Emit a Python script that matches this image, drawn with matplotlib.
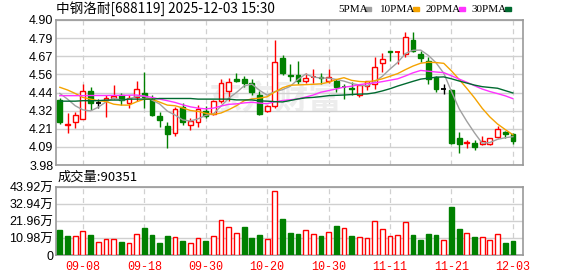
import numpy as np
import matplotlib
matplotlib.use("Agg")
import matplotlib.pyplot as plt

plt.rcParams['font.family'] = ['Liberation Sans', 'Noto Sans CJK SC', 'DejaVu Sans']

title = "中钢洛耐[688119] 2025-12-03 15:30"

opens = [4.392, 4.235, 4.254, 4.273, 4.4515, 4.371, 4.392, 4.405, 4.422, 4.373,
         4.409, 4.439, 4.398, 4.294, 4.230, 4.186, 4.349, 4.235, 4.254, 4.324,
         4.303, 4.388, 4.447, 4.528, 4.524, 4.498, 4.426, 4.324, 4.356, 4.660,
         4.553, 4.549, 4.515, 4.535, 4.537, 4.515, 4.515, 4.479, 4.466, 4.426,
         4.483, 4.494, 4.626, 4.702, 4.696, 4.685, 4.775, 4.685, 4.638, 4.541,
         4.462, 4.456, 4.154, 4.122, 4.122, 4.111, 4.111, 4.160, 4.192, 4.175]
closes = [4.250, 4.240, 4.299, 4.4515, 4.373, 4.371, 4.403, 4.420, 4.392, 4.403,
          4.460, 4.409, 4.296, 4.265, 4.179, 4.335, 4.256, 4.260, 4.335, 4.288,
          4.388, 4.498, 4.509, 4.515, 4.500, 4.441, 4.303, 4.354, 4.632, 4.562,
          4.545, 4.515, 4.530, 4.537, 4.532, 4.541, 4.473, 4.477, 4.462, 4.488,
          4.511, 4.600, 4.653, 4.694, 4.698, 4.791, 4.702, 4.660, 4.526, 4.462,
          4.462, 4.122, 4.112, 4.128, 4.094, 4.133, 4.150, 4.211, 4.175, 4.133]
highs = [4.403, 4.313, 4.318, 4.494, 4.473, 4.398, 4.426, 4.490, 4.439, 4.426,
         4.511, 4.568, 4.424, 4.318, 4.256, 4.345, 4.371, 4.277, 4.362, 4.354,
         4.392, 4.524, 4.530, 4.562, 4.547, 4.524, 4.447, 4.362, 4.774, 4.675,
         4.620, 4.638, 4.562, 4.590, 4.562, 4.590, 4.526, 4.494, 4.505, 4.494,
         4.515, 4.664, 4.689, 4.702, 4.706, 4.823, 4.823, 4.706, 4.664, 4.547,
         4.494, 4.462, 4.192, 4.139, 4.137, 4.162, 4.154, 4.228, 4.196, 4.186]
lows = [4.243, 4.180, 4.213, 4.270, 4.328, 4.341, 4.286, 4.398, 4.362, 4.341,
        4.388, 4.341, 4.292, 4.224, 4.090, 4.165, 4.235, 4.201, 4.222, 4.281,
        4.298, 4.371, 4.388, 4.505, 4.473, 4.426, 4.296, 4.315, 4.341, 4.553,
        4.515, 4.494, 4.498, 4.498, 4.494, 4.498, 4.441, 4.398, 4.426, 4.409,
        4.456, 4.462, 4.568, 4.638, 4.621, 4.668, 4.696, 4.632, 4.494, 4.441,
        4.430, 4.116, 4.058, 4.090, 4.073, 4.107, 4.107, 4.154, 4.154, 4.112]

ma5 = [4.434, 4.398, 4.356, 4.330, 4.323, 4.347, 4.380, 4.404, 4.392, 4.398,
       4.416, 4.417, 4.392, 4.367, 4.322, 4.297, 4.266, 4.259, 4.273, 4.295,
       4.305, 4.354, 4.404, 4.440, 4.482, 4.493, 4.454, 4.423, 4.446, 4.458,
       4.479, 4.522, 4.557, 4.538, 4.532, 4.531, 4.523, 4.512, 4.497, 4.488,
       4.482, 4.508, 4.543, 4.589, 4.631, 4.687, 4.708, 4.709, 4.675, 4.628,
       4.562, 4.446, 4.337, 4.257, 4.184, 4.118, 4.123, 4.143, 4.153, 4.160]
ma10 = [4.473, 4.456, 4.434, 4.409, 4.398, 4.388, 4.383, 4.366, 4.360, 4.360,
        4.381, 4.398, 4.398, 4.379, 4.360, 4.356, 4.342, 4.326, 4.320, 4.308,
        4.301, 4.310, 4.331, 4.356, 4.388, 4.399, 4.404, 4.413, 4.443, 4.470,
        4.486, 4.488, 4.490, 4.492, 4.495, 4.505, 4.522, 4.534, 4.517, 4.510,
        4.507, 4.515, 4.527, 4.543, 4.560, 4.585, 4.608, 4.626, 4.632, 4.630,
        4.625, 4.577, 4.523, 4.466, 4.406, 4.340, 4.285, 4.240, 4.205, 4.172]
ma20 = [4.420, 4.420, 4.420, 4.420, 4.421, 4.421, 4.421, 4.422, 4.422, 4.423,
        4.424, 4.417, 4.409, 4.398, 4.388, 4.377, 4.362, 4.349, 4.341, 4.336,
        4.341, 4.354, 4.365, 4.368, 4.374, 4.378, 4.373, 4.369, 4.381, 4.389,
        4.394, 4.399, 4.411, 4.424, 4.442, 4.452, 4.463, 4.474, 4.480, 4.490,
        4.496, 4.501, 4.509, 4.518, 4.527, 4.545, 4.565, 4.580, 4.575, 4.570,
        4.566, 4.546, 4.525, 4.505, 4.483, 4.462, 4.446, 4.433, 4.419, 4.401]
ma30 = [4.385, 4.385, 4.385, 4.388, 4.388, 4.388, 4.392, 4.392, 4.392, 4.398,
        4.398, 4.398, 4.398, 4.402, 4.402, 4.402, 4.402, 4.402, 4.398, 4.398,
        4.398, 4.398, 4.398, 4.393, 4.393, 4.393, 4.387, 4.385, 4.382, 4.380,
        4.389, 4.399, 4.406, 4.409, 4.414, 4.420, 4.422, 4.424, 4.427, 4.430,
        4.431, 4.438, 4.450, 4.464, 4.481, 4.496, 4.511, 4.525, 4.531, 4.537,
        4.539, 4.527, 4.513, 4.500, 4.487, 4.477, 4.472, 4.467, 4.452, 4.437]

volumes = [161000, 123000, 121000, 155000, 129000, 82000, 101000, 101000, 84000, 78000,
           136000, 174000, 129000, 78000, 123000, 114000, 90000, 78000, 108000, 90000,
           121000, 224000, 179000, 140000, 181000, 110000, 129000, 101000, 413000, 233000,
           142000, 136000, 159000, 133000, 121000, 149000, 187000, 174000, 121000, 114000,
           108000, 217000, 166000, 121000, 127000, 211000, 127000, 97000, 136000, 127000,
           95000, 310000, 168000, 140000, 116000, 114000, 95000, 133000, 78000, 90351]
vol_dir = ["g", "g", "r", "r", "g", "r", "r", "r", "g", "r",
           "r", "g", "g", "g", "g", "r", "g", "r", "r", "g",
           "r", "r", "r", "r", "g", "g", "g", "r", "r", "g",
           "g", "g", "r", "r", "g", "r", "g", "r", "g", "r",
           "r", "r", "r", "r", "r", "r", "g", "g", "g", "g",
           "r", "g", "g", "r", "g", "r", "r", "r", "g", "g"]

date_idx = [3, 11, 19, 27, 35, 43, 51, 59]
date_labels = ["09-08", "09-18", "09-30", "10-20", "10-30", "11-11", "11-21", "12-03"]

price_ticks = [3.98, 4.095, 4.21, 4.325, 4.44, 4.555, 4.67, 4.785, 4.90]
price_labels = ["3.98", "4.09", "4.21", "4.32", "4.44", "4.56", "4.67", "4.79", "4.90"]
vol_ticks = [0, 109800, 219600, 329400, 439200]
vol_labels = ["0", "10.98万", "21.96万", "32.94万", "43.92万"]

legend_names = ["5PMA", "10PMA", "20PMA", "30PMA"]
ma_colors = ["#a0a0a0", "#f5a300", "#ff33ff", "#006a30"]

RED = "#ff0000"
GREEN = "#008000"
FRAME = "#999999"
GRID = "#d0d0d0"

fig = plt.figure(figsize=(5.78, 2.76), dpi=100)
ax = fig.add_axes([56 / 578, 1 - 165 / 276, (522.5 - 56) / 578, 145 / 276])
axv = fig.add_axes([56 / 578, 1 - 255 / 276, (522.5 - 56) / 578, 68 / 276])

x = np.arange(len(closes))
w = 0.62

for a in (ax, axv):
    for s in a.spines.values():
        s.set_color(FRAME)
        s.set_linewidth(1.2)
    a.set_xlim(-0.5, 60.25)
    a.tick_params(length=0, labelsize=9, pad=2)
    for d in date_idx:
        a.axvline(d, color=GRID, linestyle=(0, (4, 3)), linewidth=0.9, zorder=0)
    a.set_axisbelow(True)

# watermark
ax.text(0.47, 0.45, "东方财富", transform=ax.transAxes, fontsize=24, fontweight="bold",
        color="#ededed", ha="center", va="center", zorder=0,
        family=["Noto Sans CJK SC"])

# candles
for i in x:
    o, c, h, l = opens[i], closes[i], highs[i], lows[i]
    if c > o:
        col = RED
    elif c < o:
        col = GREEN
    else:
        col = "black"
    ax.vlines(i, l, h, color=col, linewidth=1, zorder=2)
    bottom = min(o, c)
    height = abs(c - o)
    if height < 0.004:
        ax.hlines((o + c) / 2, i - w / 2, i + w / 2, color=col, linewidth=1.3, zorder=3)
    elif col == RED:
        ax.bar(i, height, w, bottom=bottom, facecolor="white", edgecolor=RED,
               linewidth=1, zorder=3)
    else:
        ax.bar(i, height, w, bottom=bottom, facecolor=GREEN, edgecolor=GREEN,
               linewidth=1, zorder=3)

for ma, col in zip([ma5, ma10, ma20, ma30], ma_colors):
    ax.plot(x, ma, color=col, linewidth=1, zorder=4)

ax.set_ylim(3.98, 4.90)
ax.set_yticks(price_ticks)
ax.set_yticklabels(price_labels)
ax.set_xticks([])
ax.yaxis.grid(True, color=GRID, linewidth=1)

# volume
for i in x:
    if vol_dir[i] == "r":
        axv.bar(i, volumes[i], w, facecolor="white", edgecolor=RED, linewidth=1, zorder=3)
    else:
        axv.bar(i, volumes[i], w, facecolor=GREEN, edgecolor=GREEN, linewidth=1, zorder=3)
axv.set_ylim(0, 439200)
axv.set_yticks(vol_ticks)
axv.set_yticklabels(vol_labels)
axv.yaxis.grid(True, color=GRID, linewidth=1)
axv.set_xticks(date_idx)
axv.set_xticklabels(date_labels, color=RED, fontsize=8.5, family=["Liberation Mono"])
axv.tick_params(axis="x", pad=4)

fig.text(56 / 578, 1 - 9 / 276, title, fontsize=9.8, va="center", ha="left",
         family=["Noto Sans CJK SC"])
fig.text(58 / 578, 1 - 177 / 276, "成交量:90351", fontsize=9.5, va="center", ha="left",
         family=["Noto Sans CJK SC"])

# legend: text start and colour square positions in pixels
text_px = [338, 380, 425.5, 471.5]
square_px = [365, 413, 459, 505]
for lab, col, tx, sx in zip(legend_names, ma_colors, text_px, square_px):
    fig.text(tx / 578, 1 - 9 / 276, lab, fontsize=8, va="center", ha="left",
             family=["Liberation Serif"])
    fig.patches.append(plt.Rectangle((sx / 578, (276 - 10.5) / 276), 6 / 578, 3.5 / 276,
                                     transform=fig.transFigure, color=col, figure=fig))

fig.savefig("out.png", dpi=100)
